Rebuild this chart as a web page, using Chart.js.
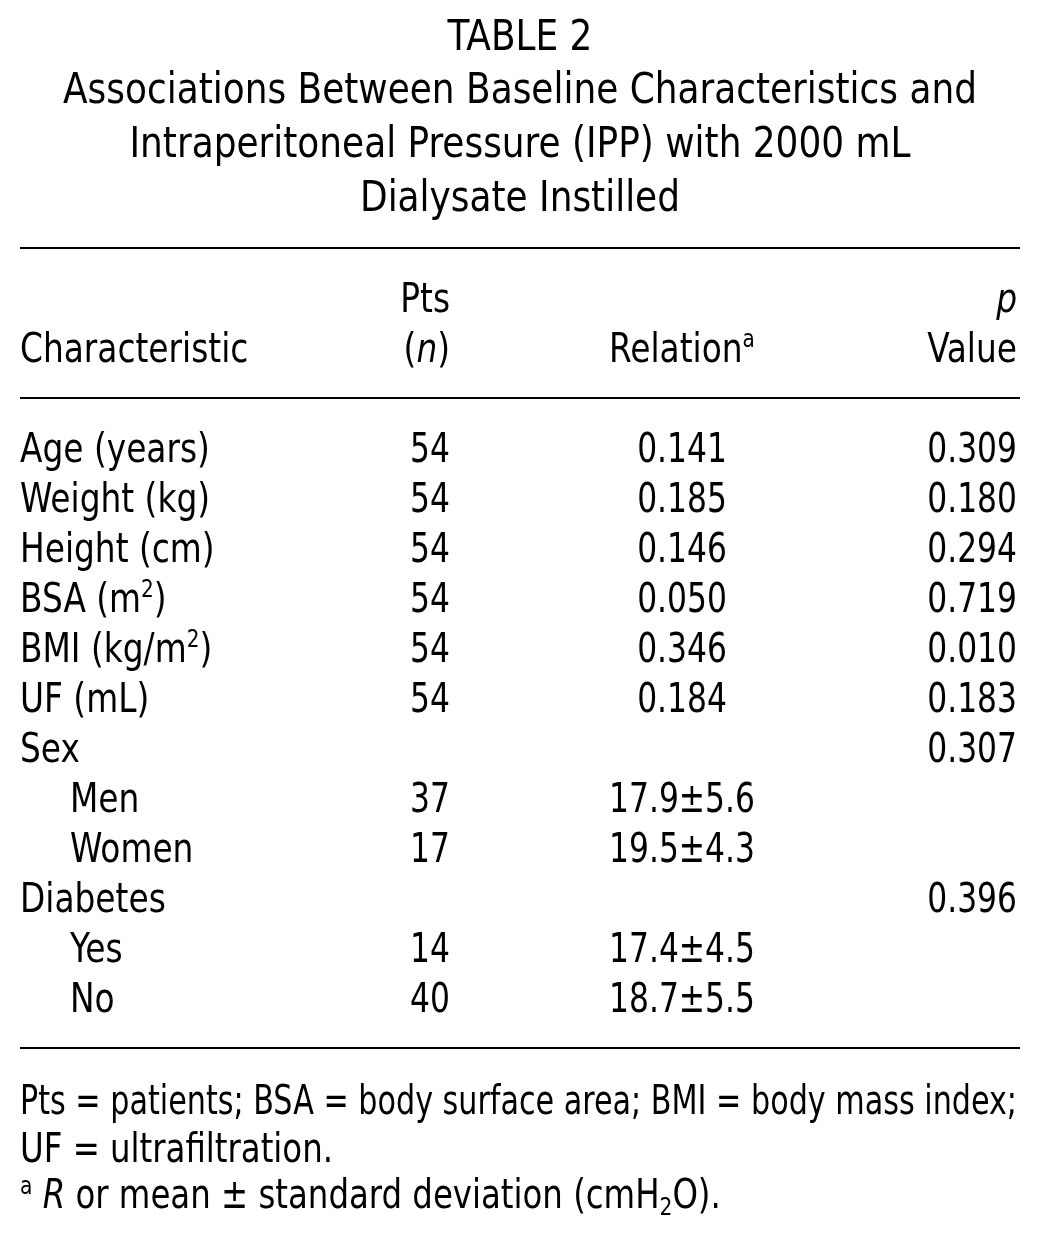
<!DOCTYPE html>
<html>
<head>
<meta charset="utf-8">
<script src="https://cdn.jsdelivr.net/npm/chart.js@4.4.1/dist/chart.umd.min.js"></script>
<style>
  body { margin: 0; background: #fff; }
  #contenedor { width: 1039px; height: 1241px; position: relative; }
</style>
</head>
<body>
<div id="contenedor"><canvas id="tabla"></canvas></div>
<script>
// datos de la tabla
var titulo = ['TABLE 2', 'Associations Between Baseline Characteristics and', 'Intraperitoneal Pressure (IPP) with 2000 mL', 'Dialysate Instilled'];
var encabezado1 = ['', 'Pts', '', '*p*'];
var encabezado2 = ['Characteristic', '(*n*)', 'Relation^a', 'Value'];
var caracteristicas = ['Age (years)', 'Weight (kg)', 'Height (cm)', 'BSA (m^2)', 'BMI (kg/m^2)', 'UF (mL)', 'Sex', 'Men', 'Women', 'Diabetes', 'Yes', 'No'];
var subgrupo = [false, false, false, false, false, false, false, true, true, false, true, true];
var pacientes = ['54', '54', '54', '54', '54', '54', '', '37', '17', '', '14', '40'];
var relacion = ['0.141', '0.185', '0.146', '0.050', '0.346', '0.184', '', '17.9±5.6', '19.5±4.3', '', '17.4±4.5', '18.7±5.5'];
var valorP = ['0.309', '0.180', '0.294', '0.719', '0.010', '0.183', '0.307', '', '', '0.396', '', ''];
var notas = ['Pts = patients; BSA = body surface area; BMI = body mass index;', 'UF = ultrafiltration.', '^a *R* or mean ± standard deviation (cmH_2O).'];

var fuente = '"DejaVu Sans Condensed", "Liberation Sans Narrow", sans-serif';
var anclaX = [20, 450, 682, 1017];   // posicion de cada columna
var alineacion = ['left', 'right', 'center', 'right'];
var estrechez = [0.89, 0.85, 0.85, 0.85]; // la fuente original es mas angosta
var sangriaX = 70;

// separa el texto en trozos: *cursiva*, ^superindice, _subindice
function partirTexto(txt) {
  var trozos = [];
  var cursiva = false;
  for (var i = 0; i < txt.length; i++) {
    var c = txt[i];
    if (c === '*') { cursiva = !cursiva; continue; }
    if (c === '^' || c === '_') {
      trozos.push({ t: txt[i + 1], cursiva: cursiva, tipo: c === '^' ? 'sup' : 'sub' });
      i++;
      continue;
    }
    var ult = trozos[trozos.length - 1];
    if (ult && ult.tipo === 'normal' && ult.cursiva === cursiva) ult.t += c;
    else trozos.push({ t: c, cursiva: cursiva, tipo: 'normal' });
  }
  return trozos;
}

function fuenteDe(trozo, tam) {
  var t = trozo.tipo === 'normal' ? tam : Math.round(tam * 0.62);
  return (trozo.cursiva ? 'italic ' : '') + t + 'px ' + fuente;
}

function escribir(ctx, txt, x, y, alin, tam, esc, anchoMax) {
  var trozos = partirTexto(txt);
  var ancho = 0;
  trozos.forEach(function (tr) {
    ctx.font = fuenteDe(tr, tam);
    tr.w = ctx.measureText(tr.t).width;
    ancho += tr.w;
  });
  if (anchoMax && ancho * esc > anchoMax) esc = anchoMax / ancho;
  ancho = ancho * esc;
  var x0 = x;
  if (alin === 'right') x0 = x - ancho;
  if (alin === 'center') x0 = x - ancho / 2;
  ctx.textAlign = 'left';
  ctx.textBaseline = 'alphabetic';
  trozos.forEach(function (tr) {
    ctx.font = fuenteDe(tr, tam);
    var dy = 0;
    if (tr.tipo === 'sup') dy = -tam * 0.36;
    if (tr.tipo === 'sub') dy = tam * 0.18;
    ctx.save();
    ctx.translate(x0, y + dy);
    ctx.scale(esc, 1);
    ctx.fillText(tr.t, 0, 0);
    ctx.restore();
    x0 += tr.w * esc;
  });
}

function armarColumna(valores, col) {
  var puntos = [];
  for (var i = 0; i < valores.length; i++) {
    if (valores[i] === '') continue;
    var x = anclaX[col];
    if (col === 0 && subgrupo[i]) x = sangriaX;
    puntos.push({ x: x, y: i, texto: valores[i] });
  }
  return puntos;
}

var pluginTabla = {
  id: 'pluginTabla',
  afterDatasetsDraw: function (chart) {
    var ctx = chart.ctx;
    var escalaY = chart.scales.y;
    var escalaX = chart.scales.x;
    ctx.save();
    ctx.fillStyle = '#000';

    var basesTitulo = [50, 103, 157, 211];
    titulo.forEach(function (linea, k) {
      escribir(ctx, linea, 520, basesTitulo[k], 'center', 42, 0.95);
    });

    // rayas
    ctx.strokeStyle = '#000';
    ctx.lineWidth = 2;
    [248, 398, 1048].forEach(function (yy) {
      ctx.beginPath();
      ctx.moveTo(20, yy);
      ctx.lineTo(1020, yy);
      ctx.stroke();
    });

    // encabezados
    for (var c = 0; c < 4; c++) {
      var px = escalaX.getPixelForValue(anclaX[c]);
      if (encabezado1[c]) escribir(ctx, encabezado1[c], px, escalaY.getPixelForValue(-3), alineacion[c], 41, 0.89);
      escribir(ctx, encabezado2[c], px, escalaY.getPixelForValue(-2), alineacion[c], 41, 0.89);
    }

    // celdas
    chart.data.datasets.forEach(function (ds, d) {
      var meta = chart.getDatasetMeta(d);
      meta.data.forEach(function (el, k) {
        escribir(ctx, ds.data[k].texto, el.x, el.y, alineacion[d], 41, estrechez[d]);
      });
    });

    // notas
    var basesNotas = [1114, 1162, 1208];
    notas.forEach(function (n, k) {
      escribir(ctx, n, 20, basesNotas[k], 'left', 40, 0.9, 997);
    });
    ctx.restore();
  }
};

var ctx = document.getElementById('tabla').getContext('2d');
var tabla = new Chart(ctx, {
  type: 'scatter',
  data: {
    datasets: [
      { label: 'Characteristic', data: armarColumna(caracteristicas, 0) },
      { label: 'Pts (n)', data: armarColumna(pacientes, 1) },
      { label: 'Relation', data: armarColumna(relacion, 2) },
      { label: 'p Value', data: armarColumna(valorP, 3) }
    ]
  },
  options: {
    responsive: true,
    maintainAspectRatio: false,
    animation: false,
    events: [],
    layout: { padding: 0 },
    elements: { point: { radius: 0 } },
    scales: {
      x: { type: 'linear', min: 0, max: 1039, display: false },
      y: { type: 'linear', min: -9.24, max: 15.58, reverse: true, display: false }
    },
    plugins: {
      legend: { display: false },
      tooltip: { enabled: false }
    }
  },
  plugins: [pluginTabla]
});
</script>
</body>
</html>
